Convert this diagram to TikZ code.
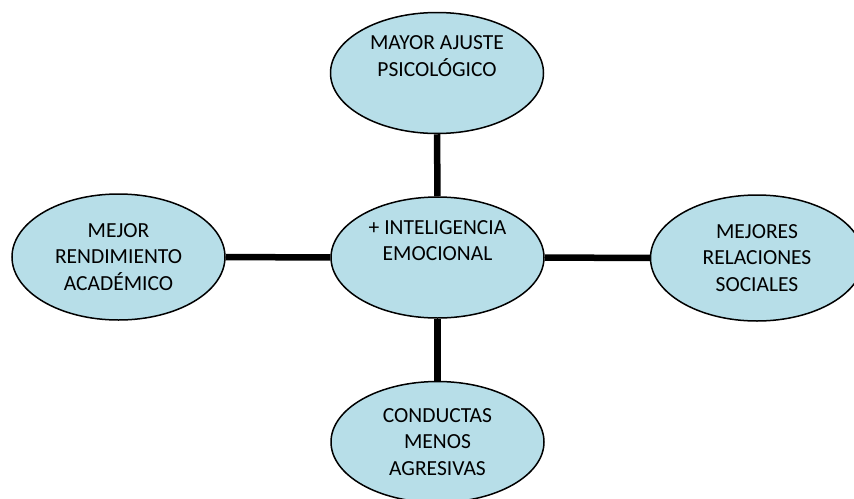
\documentclass[tikz,border=0pt]{standalone}
\usepackage{fontspec}
\setmainfont{Carlito}
\usetikzlibrary{shapes.geometric}
\definecolor{bubble}{HTML}{B7DEE8}
\tikzset{
  bubblenode/.style={ellipse, draw=black, line width=1.5pt, fill=bubble,
    minimum width=213pt, minimum height=121pt, inner sep=0pt, align=center,
    font=\fontsize{21.5}{26.5}\selectfont},
  linkline/.style={line width=6.5pt, black}
}
\begin{document}
\begin{tikzpicture}[x=1pt,y=-1pt]
\clip (0,0) rectangle (854,498);
\fill[white] (0,0) rectangle (854,498);
\node[bubblenode] (mid) at (437.5,257.5) {+ INTELIGENCIA\\EMOCIONAL\\\strut};
\node[bubblenode] (top) at (437,73) {MAYOR AJUSTE\\PSICOL\'OGICO\\\strut};
\node[bubblenode, minimum height=126pt] (left) at (118.5,257) {MEJOR\\RENDIMIENTO\\ACAD\'EMICO};
\node[bubblenode, minimum height=126pt] (right) at (757,258) {MEJORES\\RELACIONES\\SOCIALES};
\node[bubblenode] (bot) at (437.5,442) {CONDUCTAS\\MENOS\\AGRESIVAS};
\draw[linkline] (mid) -- (top);
\draw[linkline] (mid) -- (bot);
\draw[linkline] (mid) -- (left);
\draw[linkline] (mid) -- (right);
\end{tikzpicture}
\end{document}
